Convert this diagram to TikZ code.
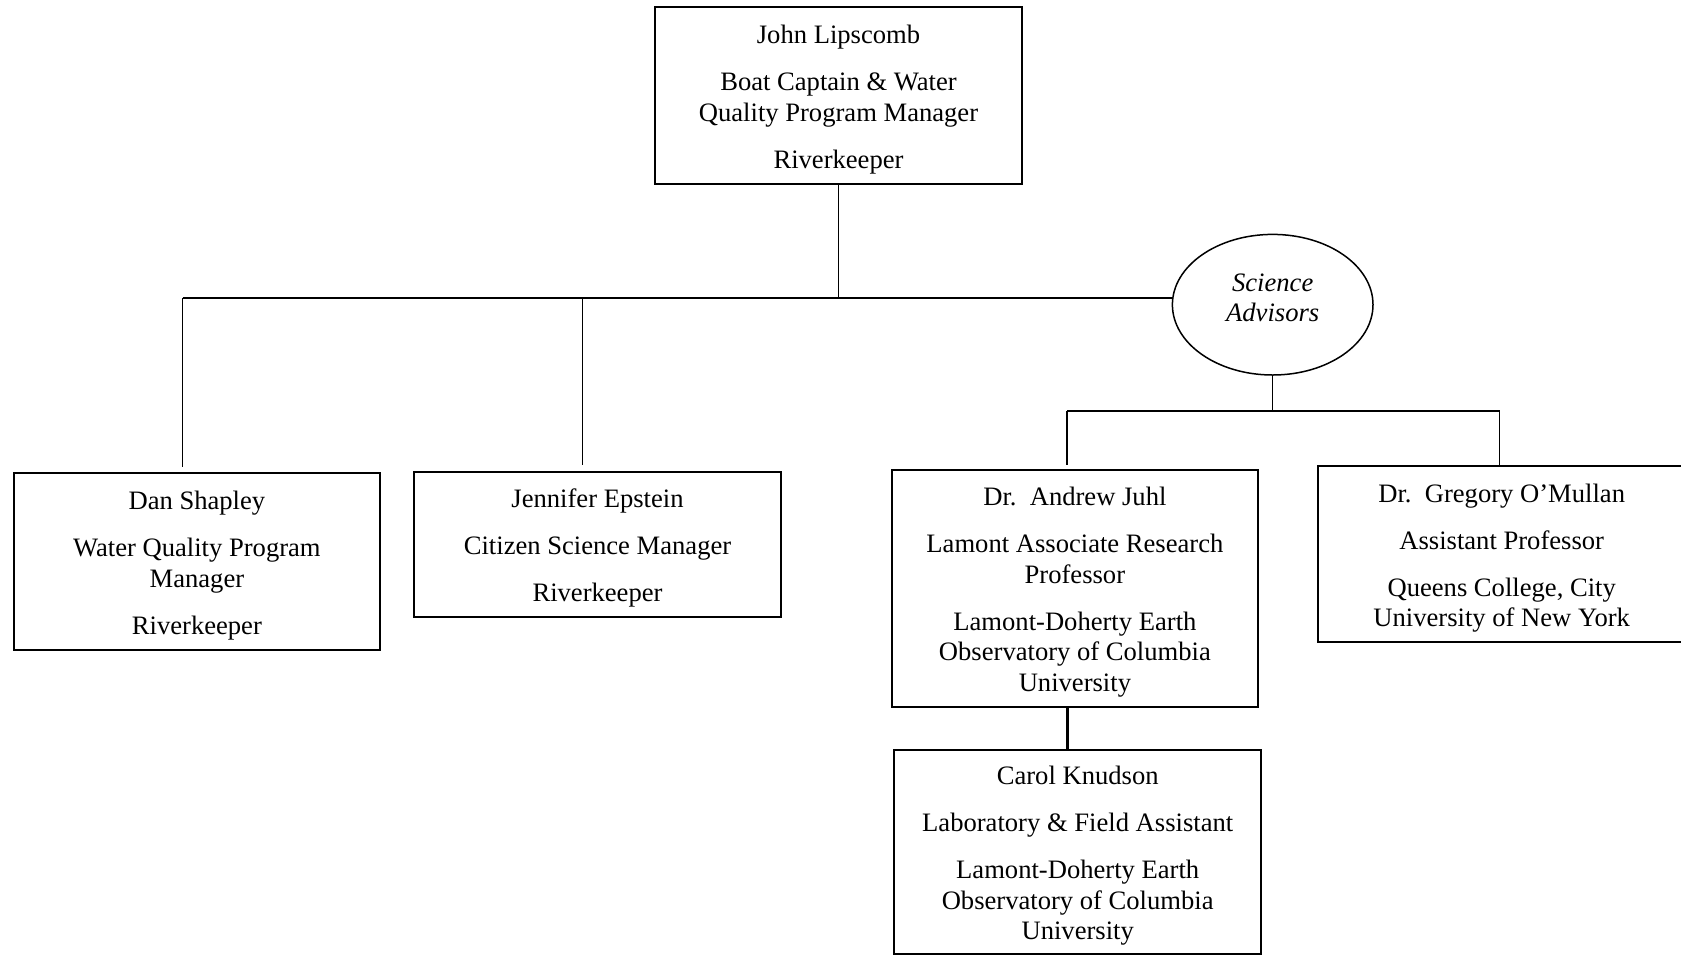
\documentclass[tikz,border=0pt]{standalone}
\usepackage{fontspec}
\setmainfont{Liberation Serif}
\usetikzlibrary{shapes.geometric}
\newcommand{\boxlines}[1]{\raisebox{-2.15pt}[\height][\depth]{\begin{tabular}{@{}c@{}}#1\end{tabular}}}
\begin{document}
\begin{tikzpicture}[x=0.5pt,y=-0.5pt,
  box/.style={draw, line width=1pt, rectangle, align=center, inner sep=0pt,
    minimum width=183.3pt, font=\fontsize{13.3pt}{15.3pt}\selectfont},
  thinline/.style={line width=0.75pt},
  midline/.style={line width=1pt},
  boldline/.style={line width=1.3pt}]
\useasboundingbox (0,0) rectangle (1681,955);

\node[box, minimum height=88.3pt] (top) at (838.5,95.7)
  {\boxlines{John Lipscomb\\[8.2pt]Boat Captain \& Water\\Quality Program Manager\\[8.2pt]Riverkeeper}};

\node[box, minimum height=88.1pt] (dan) at (196.9,561.4)
  {\boxlines{Dan Shapley\\[8.2pt]Water Quality Program\\Manager\\[8.2pt]Riverkeeper}};

\node[box, minimum height=72.5pt] (jen) at (597.5,544.2)
  {\boxlines{Jennifer Epstein\\[8.2pt]Citizen Science Manager\\[8.2pt]Riverkeeper}};

\node[box, minimum height=118.4pt] (juhl) at (1074.9,588.1)
  {\boxlines{Dr.~~Andrew Juhl\\[8.2pt]Lamont Associate Research\\Professor\\[8.2pt]Lamont-Doherty Earth\\Observatory of Columbia\\University}};

\node[box, minimum height=87.8pt] (omul) at (1501.7,554.2)
  {\boxlines{Dr.~~Gregory O’Mullan\\[8.2pt]Assistant Professor\\[8.2pt]Queens College, City\\University of New York}};

\node[box, minimum height=102pt] (knud) at (1077.7,851.6)
  {\boxlines{Carol Knudson\\[8.2pt]Laboratory \& Field Assistant\\[8.2pt]Lamont-Doherty Earth\\Observatory of Columbia\\University}};

\node[draw, ellipse, thinline, inner sep=0pt, minimum width=100.3pt, minimum height=70.3pt,
  font=\fontsize{13.3pt}{15.3pt}\selectfont\itshape] (ell) at (1272.7,304.7)
  {\raisebox{2.25pt}[\height][\depth]{\begin{tabular}{@{}c@{}}Science\\Advisors\end{tabular}}};

% first level connectors
\coordinate (hL) at (182.7,298);
\coordinate (hJ) at (582.7,298);
\coordinate (hub) at (top.south |- hL);
\draw[thinline] (top.south) -- (hub);
\draw[boldline] (hL) -- (hL -| ell.west);
\draw[thinline, shorten >=2.5pt] (hL) -- (hL |- dan.north);
\draw[thinline, shorten >=2.8pt] (hJ) -- (hJ |- jen.north);

% science advisors connectors
\coordinate (sL) at (1067,410.6);
\coordinate (sR) at (1499.6,410.6);
\draw[thinline] (ell.south) -- (ell.south |- sL);
\draw[midline] (sL) -- (sR);
\draw[boldline, shorten >=2pt] (sL) -- (sL |- juhl.north);
\draw[thinline] (sR) -- (sR |- omul.north);
\coordinate (kJ) at (1067.4,706.5);
\draw[boldline] (kJ) -- (kJ |- knud.north);
\end{tikzpicture}
\end{document}
